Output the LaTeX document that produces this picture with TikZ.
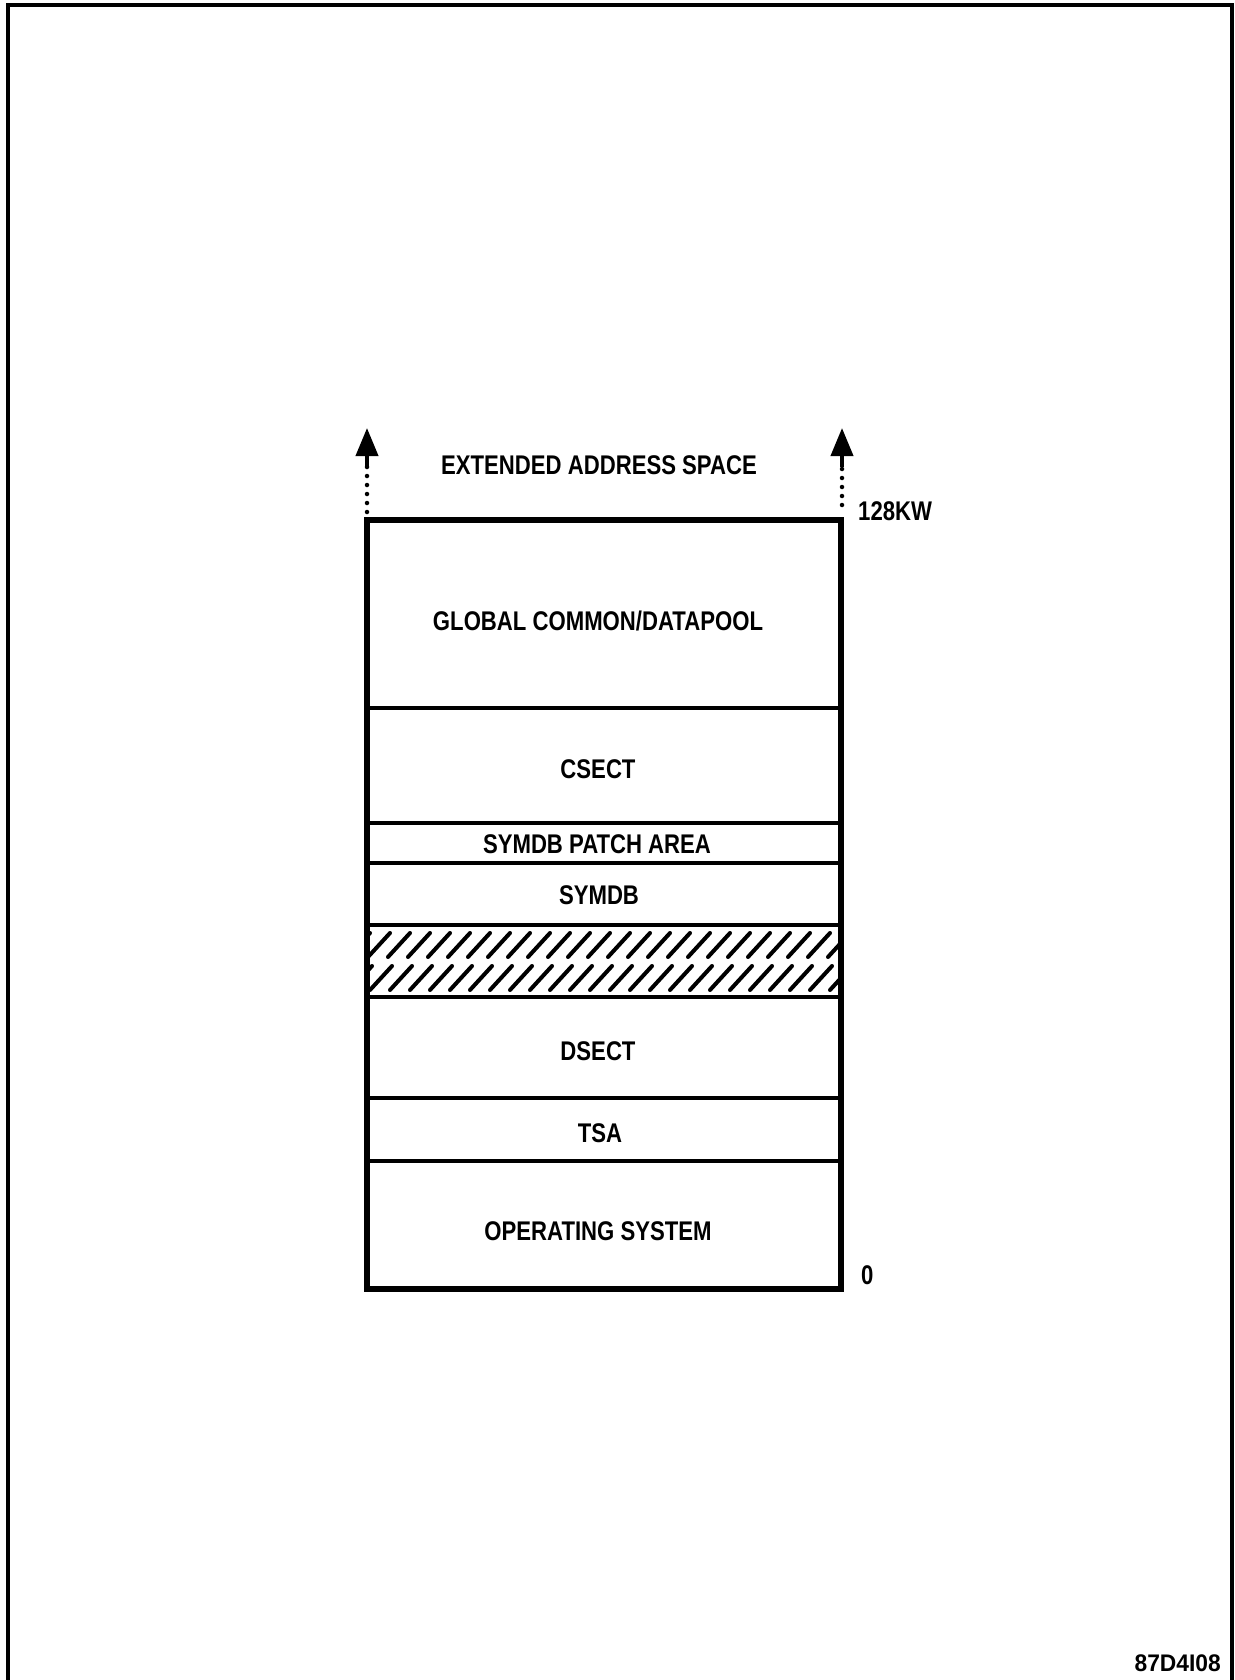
\documentclass[tikz,border=0pt]{standalone}
\usepackage{fontspec}
\setmainfont{Liberation Sans}
\usetikzlibrary{arrows.meta}
\newcommand{\lab}[1]{\scalebox{0.82}[1]{\fontsize{27}{27}\selectfont\bfseries #1}}
\begin{document}
\begin{tikzpicture}[x=1pt,y=-1pt,
  lbl/.style={inner sep=0pt, anchor=base},
  divider/.style={line width=4pt},
  outerbox/.style={line width=6.5pt},
  hatchline/.style={line width=4pt, line cap=round},
  dotline/.style={line width=4.5pt, line cap=round, dash pattern=on 0pt off 9pt},
  upstem/.style={line width=4pt, -{Triangle[width=22pt,length=28pt]}}]
\useasboundingbox (0,0) rectangle (1234,1680);
% page frame (open at bottom)
\draw[line width=4pt] (8,1680) -- (8,5) -- (1232,5) -- (1232,1680);
% hatched band
\begin{scope}
\clip (367,925) rectangle (841,997);
\foreach \x in {328,348,...,868} {
  \draw[hatchline] (\x,957) -- ++(22,-24);
  \draw[hatchline] (\x+2,990) -- ++(22,-24);
}
\end{scope}
% dividers
\foreach \y in {708,823,863,925,997,1098,1161} {
  \draw[divider] (367,\y) -- (841,\y);
}
% outer box
\draw[outerbox] (367,520) rectangle (841,1289);
% labels
\node[lbl] (ext) at (599,474) {\lab{EXTENDED ADDRESS SPACE}};
\node[lbl] (glob) at (598,630) {\lab{GLOBAL COMMON/DATAPOOL}};
\node[lbl] (csect) at (598,778) {\lab{CSECT}};
\node[lbl] (patch) at (597,853) {\lab{SYMDB PATCH AREA}};
\node[lbl] (symdb) at (599,904) {\lab{SYMDB}};
\node[lbl] (dsect) at (598,1060) {\lab{DSECT}};
\node[lbl] (tsa) at (600,1142) {\lab{TSA}};
\node[lbl] (os) at (598,1240) {\lab{OPERATING SYSTEM}};
\node[lbl, anchor=base west] (kw) at (858,520) {\lab{128KW}};
\node[lbl, anchor=base west] (zero) at (861,1284) {\lab{0}};
\node[lbl, anchor=base east] (fig) at (1221,1671) {\scalebox{0.95}[1]{\fontsize{24}{24}\selectfont\bfseries 87D4I08}};
% arrows
\coordinate (la0) at (367,512);
\coordinate (la1) at (367,467);
\coordinate (la2) at (367,428);
\coordinate (ra0) at (842,505);
\coordinate (ra1) at (842,467);
\coordinate (ra2) at (842,428);
\draw[dotline] (la0) -- (la1);
\draw[upstem] (la1) -- (la2);
\draw[dotline] (ra0) -- (ra1);
\draw[upstem] (ra1) -- (ra2);
\end{tikzpicture}
\end{document}
